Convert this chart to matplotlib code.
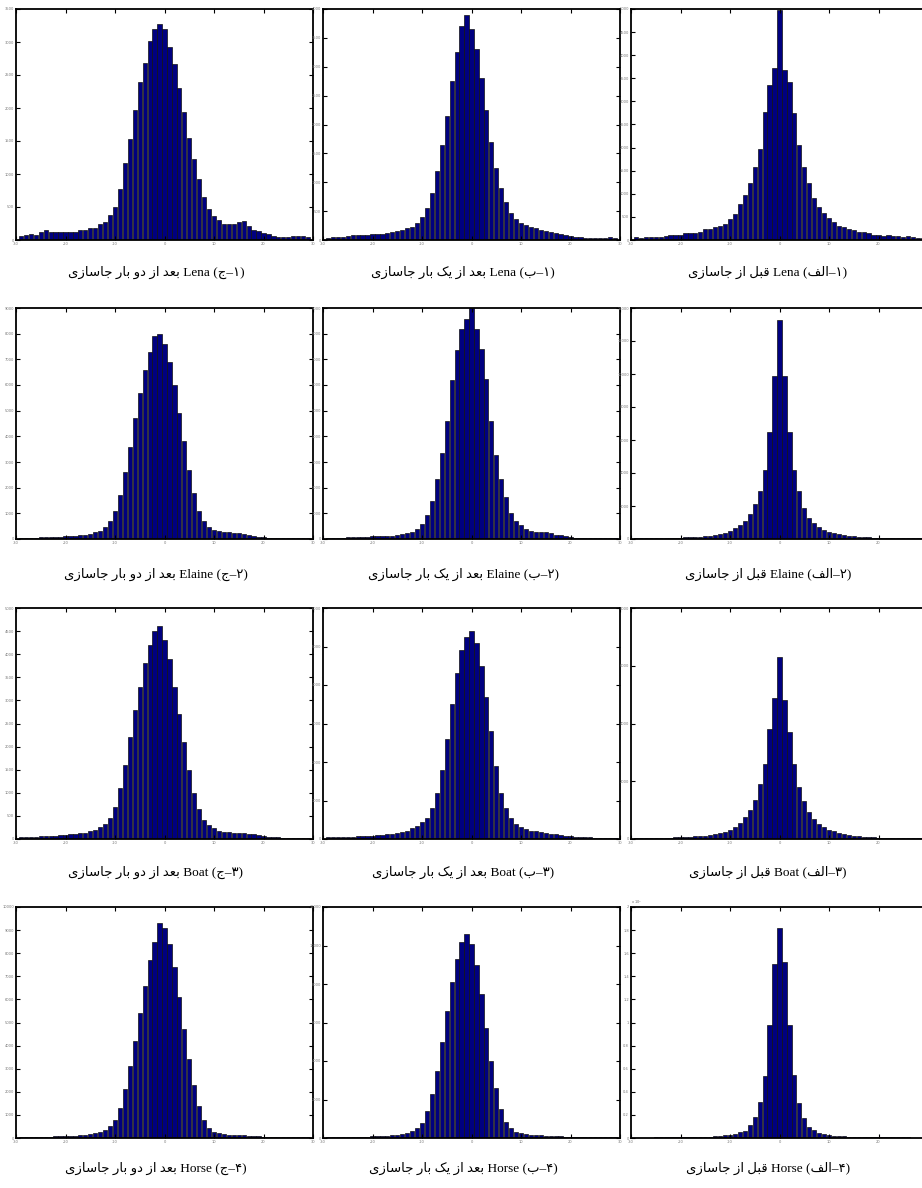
import numpy as np
import matplotlib
matplotlib.use("Agg")
import matplotlib.pyplot as plt
from matplotlib.ticker import FixedLocator

# ---------------- data ----------------
centers = np.arange(-29, 30)

lena_double = [60,75,95,75,115,145,125,115,125,115,125,115,145,145,185,185,250,270,380,500,
               775,1170,1525,1965,2390,2685,3020,3195,3280,3195,2925,2660,2305,1940,1545,1220,925,650,470,370,
               310,250,250,250,270,290,210,145,135,105,85,65,40,40,40,60,60,60,40]
lena_single = [40,50,60,60,70,80,80,90,90,100,100,110,120,130,150,170,200,230,300,400,
               560,820,1200,1650,2150,2750,3250,3700,3900,3650,3300,2800,2250,1700,1250,900,650,470,360,300,
               260,230,200,180,160,140,120,100,80,70,60,50,40,40,40,40,40,50,40]
lena_before = [70,45,70,70,70,70,90,115,100,115,160,145,150,175,230,230,275,305,350,465,
               560,785,965,1235,1590,1970,2775,3345,3715,4980,3670,3415,2755,2065,1590,1235,900,725,580,480,
               390,305,275,245,220,175,175,145,115,115,90,100,90,90,70,90,60,45,45]
elaine_double = [40,40,50,50,60,70,80,80,90,100,110,120,140,170,200,260,330,450,700,1100,
                 1700,2600,3600,4700,5700,6600,7300,7900,8000,7600,6900,6000,4900,3800,2700,1800,1100,700,450,350,
                 300,280,260,240,220,200,160,120,80,60,40,30,30,30,30,30,30,30,30]
elaine_single = [40,40,40,50,60,80,90,90,80,100,100,100,110,130,150,200,220,260,400,590,
                 925,1500,2335,3350,4600,6195,7355,8165,8570,8990,8165,7400,6220,4600,3260,2335,1630,1030,690,535,
                 405,320,270,270,270,250,170,170,120,70,40,40,30,30,30,30,30,30,30]
elaine_before = [40,40,40,50,50,60,60,70,80,90,100,110,130,150,170,200,240,300,380,500,
                 650,850,1100,1500,2100,2900,4200,6500,9900,13300,9900,6500,4200,2900,1900,1300,950,700,550,450,
                 380,300,250,200,170,140,120,100,80,70,60,50,50,40,40,40,40,40,40]
boat_double = [40,40,50,50,60,60,70,70,80,90,100,110,120,140,170,200,250,320,450,700,
               1100,1600,2200,2800,3300,3800,4200,4500,4600,4300,3900,3300,2700,2100,1500,1000,650,420,300,230,
               180,160,150,140,130,120,110,100,80,60,50,40,40,30,30,30,30,30,30]
boat_single = [40,40,50,50,60,60,70,70,80,90,
               100,110,120,130,150,180,220,280,350,450,
               550,800,1200,1800,2600,3500,4300,4900,5250,5400,
               5100,4500,3700,2800,1900,1200,800,550,400,300,
               260,220,200,180,160,140,120,100,90,70,
               60,50,40,40,30,30,30,30,30]
boat_before = [30,30,30,40,40,40,50,50,60,60,70,80,90,100,120,140,170,200,250,320,
               420,550,750,1000,1350,1900,2600,3800,4900,6300,4800,3700,2600,1800,1300,950,700,520,400,320,
               260,210,170,140,110,90,80,70,60,50,40,40,30,30,30,30,30,30,30]
horse_double = [40,40,40,50,50,60,60,70,70,80,90,100,110,130,160,200,260,350,500,800,
                1300,2100,3100,4200,5400,6600,7700,8500,9300,9100,8400,7400,6100,4700,3400,2300,1400,800,450,280,
                200,160,140,130,120,110,100,90,80,60,50,40,40,30,30,30,30,30,30]
horse_single = [40,40,40,50,50,60,60,70,70,80,90,100,110,130,160,200,260,350,500,800,
                1400,2300,3500,5000,6600,8100,9300,10200,10600,10100,9000,7500,5700,4000,2600,1500,850,500,330,250,
                200,170,150,130,110,100,90,80,70,60,50,40,40,30,30,30,30,30,30]
horse_before = [10,10,10,20,60,60,60,70,70,80,
                80,90,90,100,110,120,150,
                200,230,290,370,520,630,1090,1780,3100,5400,9800,15090,
                18190,
                15260,9800,5460,3050,1750,950,660,460,320,230,200,150,
                130,110,100,90,80,80,70,
                70,60,60,60,50,50,50,40,30,20]

panel_data = [[lena_double, lena_single, lena_before],
              [elaine_double, elaine_single, elaine_before],
              [boat_double, boat_single, boat_before],
              [horse_double, horse_single, horse_before]]

ylims = [[3500, 4000, 5000],
         [9000, 9000, 14000],
         [5000, 6000, 8000],
         [10000, 12000, 20000]]
ysteps = [[500, 500, 500],
          [1000, 1000, 2000],
          [500, 1000, 2000],
          [1000, 2000, 2000]]
xticks = [-30, -20, -10, 0, 10, 20, 30]

names = ["Lena", "Elaine", "Boat", "Horse"]
row_digits = ["۱", "۲", "۳", "۴"]
col_letters = ["ج", "ب", "الف"]
col_phrases = ["بعد از دو بار جاسازی", "بعد از یک بار جاسازی", "قبل از جاسازی"]

# ---------------- Persian shaping (visual order) ----------------
FORMS = {
    "ب": ("\uFE8F", "\uFE90", "\uFE91", "\uFE92"),
    "ع": ("\uFEC9", "\uFECA", "\uFECB", "\uFECC"),
    "د": ("\uFEA9", "\uFEAA", None, None),
    "ا": ("\uFE8D", "\uFE8E", None, None),
    "ز": ("\uFEAF", "\uFEB0", None, None),
    "و": ("\uFEED", "\uFEEE", None, None),
    "ر": ("\uFEAD", "\uFEAE", None, None),
    "ج": ("\uFE9D", "\uFE9E", "\uFE9F", "\uFEA0"),
    "س": ("\uFEB1", "\uFEB2", "\uFEB3", "\uFEB4"),
    "ی": ("\uFBFC", "\uFBFD", "\uFBFE", "\uFBFF"),
    "ک": ("\uFB8E", "\uFB8F", "\uFB90", "\uFB91"),
    "ق": ("\uFED5", "\uFED6", "\uFED7", "\uFED8"),
    "ل": ("\uFEDD", "\uFEDE", "\uFEDF", "\uFEE0"),
    "ف": ("\uFED1", "\uFED2", "\uFED3", "\uFED4"),
}


def shape_rtl(text):
    out = []
    for i, c in enumerate(text):
        if c not in FORMS:
            out.append(c)
            continue
        prev = text[i - 1] if i > 0 else None
        nxt = text[i + 1] if i + 1 < len(text) else None
        jp = prev in FORMS and FORMS[prev][2] is not None
        jn = FORMS[c][2] is not None and nxt in FORMS
        if jp and jn:
            out.append(FORMS[c][3])
        elif jp:
            out.append(FORMS[c][1])
        elif jn:
            out.append(FORMS[c][2])
        else:
            out.append(FORMS[c][0])
    return "".join(out)[::-1]


def caption(r, c):
    # right-to-left line, written out in visual (left-to-right) order
    label = "(" + shape_rtl(col_letters[c]) + "\u2013" + row_digits[r] + ")"
    return shape_rtl(col_phrases[c]) + " " + names[r] + " " + label


# ---------------- figure ----------------
W, H = 922, 1188
fig = plt.figure(figsize=(W / 100, H / 100), dpi=100)
fig.patch.set_facecolor("white")

col_left = [16, 323, 631]
ax_w = 297
row_top = [9, 308, 608, 907]
ax_h = 231
cap_y = [272, 574, 872, 1168]
cap_x = [156, 463, 768]

for r in range(4):
    for c in range(3):
        ax = fig.add_axes([col_left[c] / W, 1 - (row_top[r] + ax_h) / H, ax_w / W, ax_h / H])
        vals = np.array(panel_data[r][c], dtype=float)
        ax.bar(centers, vals, width=0.85, color="#000080", edgecolor="#111111", linewidth=0.5)
        ax.set_xlim(-30, 30)
        ylim = ylims[r][c]
        ax.set_ylim(0, ylim)
        ax.xaxis.set_major_locator(FixedLocator(xticks))
        yt = np.arange(0, ylim + 1, ysteps[r][c])
        ax.yaxis.set_major_locator(FixedLocator(yt))
        xl = [str(t) for t in xticks]
        if c == 2:
            xl[-1] = ""  # falls outside the picture
        ax.set_xticklabels(xl)
        if ylim == 20000:
            ax.set_yticklabels([("%g" % (v / 1e4)) for v in yt])
            ax.text(0.0, 1.005, "x 10$^4$", transform=ax.transAxes, fontsize=2.5,
                    color="#666666", ha="left", va="bottom")
        else:
            ax.set_yticklabels([str(int(v)) for v in yt])
        ax.tick_params(direction="in", top=True, right=True, length=3, width=0.8,
                       labelsize=2.6, labelcolor="#777777", pad=1.5)
        for s in ax.spines.values():
            s.set_linewidth(1.3)
            s.set_color("black")
        fig.text(cap_x[c] / W, 1 - cap_y[r] / H, caption(r, c), ha="center", va="center",
                 fontsize=9.5, family=["Liberation Serif", "DejaVu Sans"])

fig.savefig("out.png", dpi=100, facecolor="white")
